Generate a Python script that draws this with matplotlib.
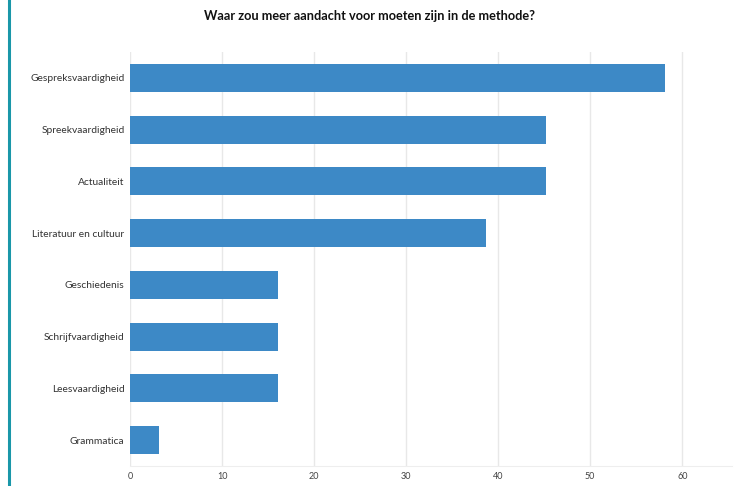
import matplotlib
matplotlib.use("Agg")
import matplotlib.pyplot as plt
from matplotlib.lines import Line2D

# data (percentages)
categories = [
    "Gespreksvaardigheid",
    "Spreekvaardigheid",
    "Actualiteit",
    "Literatuur en cultuur",
    "Geschiedenis",
    "Schrijfvaardigheid",
    "Leesvaardigheid",
    "Grammatica",
]
values = [58.1, 45.2, 45.2, 38.7, 16.1, 16.1, 16.1, 3.2]
xticks = [0, 10, 20, 30, 40, 50, 60]
title = "Waar zou meer aandacht voor moeten zijn in de methode?"

plt.rcParams["font.family"] = ["Lato", "DejaVu Sans"]

fig = plt.figure(figsize=(7.43, 4.86), dpi=100)
ax = fig.add_axes([130 / 743, 20 / 486, 602 / 743, 414 / 486])

#bars, first category on top
ypos = list(range(len(categories)))
ax.barh(ypos, values, height=0.54, color="#3d89c6", zorder=2)
ax.set_ylim(len(categories) - 0.5, -0.5)
ax.set_xlim(0, 65.4)

ax.set_yticks(ypos)
ax.set_yticklabels(categories, fontsize=7.4, color="#333333")
ax.set_xticks(xticks)
ax.set_xticklabels([str(t) for t in xticks], fontsize=6.5, color="#444444")
ax.tick_params(length=0, pad=4)

#light vertical gridlines
ax.grid(axis="x", color="#e8e8e8", linewidth=1.0, zorder=0)
for side in ["top", "right", "left"]:
    ax.spines[side].set_visible(False)
ax.spines["bottom"].set_color("#eeeeee")

fig.text(0.497, 1 - 16 / 486, title, ha="center", va="center",
         fontsize=9.2, fontweight="bold", color="#111111")

#teal frame line on the left edge
fig.add_artist(Line2D([9 / 743, 9 / 743], [0, 1], color="#1a97a9",
                      linewidth=2.2, transform=fig.transFigure))

fig.savefig("out.png", dpi=100, facecolor="white")
